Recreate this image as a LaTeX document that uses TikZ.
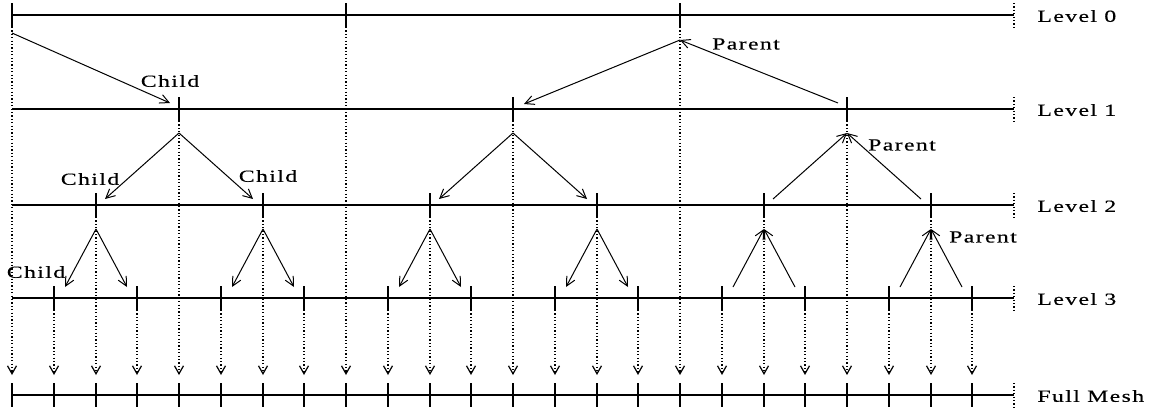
\documentclass[tikz,border=0pt]{standalone}
\usepackage{fontspec}
\setmainfont{Liberation Serif}
\newfontfamily\lblfont[FakeStretch=1.4,LetterSpace=8,FakeBold=0.3]{Liberation Serif}
\usetikzlibrary{arrows.meta,calc}

\tikzset{
  meshline/.style={line width=0.8pt},
  tickmark/.style={line width=0.8pt},
  guide/.style={line width=0.6pt, dash pattern=on 0.6pt off 1.1pt},
  link/.style={line width=0.5pt, -{Straight Barb[length=4.5pt,width=4.5pt,line width=0.5pt]}},
  drop/.style={guide, -{Straight Barb[length=4pt,width=4.5pt,line width=0.6pt]}},
  lbl/.style={font=\lblfont\fontsize{8.5}{9}\selectfont, inner sep=0pt},
}

\begin{document}
\begin{tikzpicture}[x=0.5pt, y=-0.5pt]
  \useasboundingbox (0,0) rectangle (1151,409);

  % the five grids
  \foreach \lv/\y/\txt in {0/15/Level 0, 1/109/Level 1, 2/205/Level 2, 3/298/Level 3, 4/395/Full Mesh} {
    \coordinate (start\lv) at (12,\y);
    \coordinate (end\lv) at (1014,\y);
    \draw[meshline] (start\lv) -- (end\lv);
    \draw[guide] ($(end\lv)+(0,-12)$) -- ($(end\lv)+(0,12)$);
    \node[lbl, anchor=west] (name\lv) at (1037,\y+1) {\txt};
  }

  % points of each level, dropped onto the full mesh
  \foreach \y/\klist in {15/{0,8,16}, 109/{4,12,20}, 205/{2,6,10,14,18,22}, 298/{1,3,...,23}} {
    \foreach \k in \klist {
      \pgfmathsetmacro\xx{round(12+41.75*\k)}
      \coordinate (top\k) at (\xx,\y-12);
      \coordinate (bot\k) at (\xx,\y+12);
      \coordinate (tip\k) at (\xx,375);
      \draw[tickmark] (top\k) -- (bot\k);
      \draw[drop] (bot\k) -- (tip\k);
    }
  }
  \foreach \k in {0,...,23} {
    \pgfmathsetmacro\xx{round(12+41.75*\k)}
    \coordinate (fa\k) at (\xx,383);
    \coordinate (fb\k) at (\xx,407);
    \draw[tickmark] (fa\k) -- (fb\k);
  }

  % level 0 -> level 1
  \coordinate (c0a) at (12,33);
  \coordinate (c0b) at (170,103);
  \draw[link] (c0a) -- (c0b);
  \node[lbl] (child0) at (170,81) {Child};
  \coordinate (p16) at (680,40);
  \coordinate (c16a) at (524,104);
  \coordinate (c16b) at (838,103);
  \draw[link] (p16) -- (c16a);
  \draw[link] (c16b) -- (p16);
  \node[lbl] (parent0) at (746,44) {Parent};

  % level 1 -> level 2
  \foreach \k in {4,12} {
    \pgfmathsetmacro\xx{round(12+41.75*\k)}
    \coordinate (ap\k) at (\xx,133);
    \coordinate (lf\k) at (\xx-74,199);
    \coordinate (rt\k) at (\xx+74,199);
    \draw[link] (ap\k) -- (lf\k);
    \draw[link] (ap\k) -- (rt\k);
  }
  \coordinate (ap20) at (847,133);
  \coordinate (lf20) at (773,199);
  \coordinate (rt20) at (921,199);
  \draw[link] (lf20) -- (ap20);
  \draw[link] (rt20) -- (ap20);
  \node[lbl] (child1) at (90,179) {Child};
  \node[lbl] (child2) at (268,176) {Child};
  \node[lbl] (parent1) at (902,145) {Parent};

  % level 2 -> level 3
  \foreach \k in {2,6,10,14} {
    \pgfmathsetmacro\xx{round(12+41.75*\k)}
    \coordinate (ap\k) at (\xx,229);
    \coordinate (lf\k) at (\xx-31,287);
    \coordinate (rt\k) at (\xx+31,287);
    \draw[link] (ap\k) -- (lf\k);
    \draw[link] (ap\k) -- (rt\k);
  }
  \foreach \k in {18,22} {
    \pgfmathsetmacro\xx{round(12+41.75*\k)}
    \coordinate (ap\k) at (\xx,229);
    \coordinate (lf\k) at (\xx-31,287);
    \coordinate (rt\k) at (\xx+31,287);
    \draw[link] (lf\k) -- (ap\k);
    \draw[link] (rt\k) -- (ap\k);
  }
  \node[lbl] (child3) at (36,272) {Child};
  \node[lbl] (parent2) at (983,237) {Parent};
\end{tikzpicture}
\end{document}
